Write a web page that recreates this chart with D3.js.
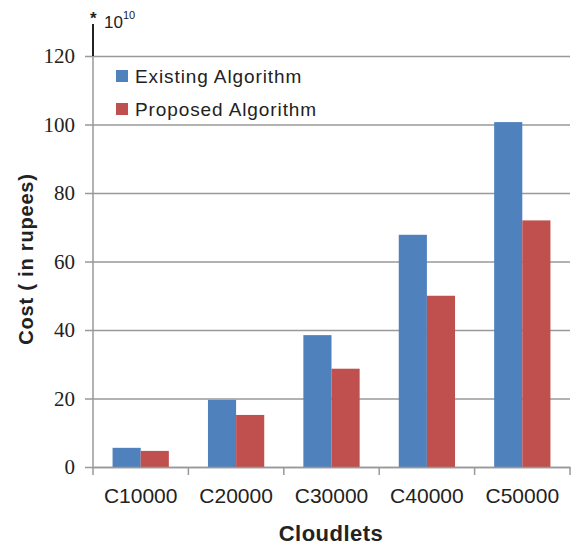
<!DOCTYPE html>
<html>
<head>
<meta charset="utf-8">
<script src="https://cdn.jsdelivr.net/npm/d3@7"></script>
<style>
  body { margin: 0; background: #fff; }
  svg { display: block; }
</style>
</head>
<body>
<div id="chart"></div>
<script>
const categories = ['C10000', 'C20000', 'C30000', 'C40000', 'C50000']
const seriesNames = ['Existing Algorithm', 'Proposed Algorithm']
const existing = [5.6, 19.6, 38.5, 67.8, 100.7]
const proposed = [4.7, 15.2, 28.7, 50, 72]
const yTicks = [0, 20, 40, 60, 80, 100, 120]

const colors = ['#4f81bd', '#c0504d']

const margin = { top: 56, right: 12, bottom: 78, left: 93 }
const width = 582 - margin.left - margin.right
const height = 545 - margin.top - margin.bottom

const svg = d3
  .select('#chart')
  .append('svg')
  .attr('width', 582)
  .attr('height', 545)

const g = svg
  .append('g')
  .attr('transform', 'translate(' + margin.left + ',' + margin.top + ')')

const data = categories.map((c, i) => ({ cat: c, values: [existing[i], proposed[i]] }))

const x0 = d3.scaleBand()
  .domain(categories)
  .range([0, 477])
  .paddingInner(0.41)
  .paddingOuter(0.205)

const x1 = d3.scaleBand()
  .domain([0, 1])
  .range([0, x0.bandwidth()])

const y = d3.scaleLinear()
  .domain([0, 120])
  .range([height, 0])

// gridlines + y axis
const yAxis = d3.axisLeft(y)
  .tickValues(yTicks)
  .tickSize(-477 - 8)
  .tickPadding(10)

g.append('g')
  .attr('class', 'y-axis')
  .attr('transform', 'translate(-8,0)')
  .call(yAxis)
  .call(s => s.select('.domain').remove())
  .call(s => s.selectAll('.tick line').attr('stroke', '#999').attr('stroke-width', 1.3))
  .call(s => s.selectAll('.tick text')
    .attr('font-family', 'Liberation Serif, serif')
    .attr('font-size', 21)
    .attr('fill', '#222')
    .attr('x', -10))

// bars
g.append('g')
  .selectAll('g')
  .data(data)
  .enter()
  .append('g')
  .attr('transform', d => 'translate(' + x0(d.cat) + ',0)')
  .selectAll('rect')
  .data(d => d.values)
  .enter()
  .append('rect')
  .attr('x', (d, i) => x1(i))
  .attr('width', x1.bandwidth())
  .attr('y', d => y(d))
  .attr('height', d => height - y(d))
  .attr('fill', (d, i) => colors[i])

// y axis line
g.append('line')
  .attr('x1', 0).attr('x2', 0)
  .attr('y1', 0).attr('y2', height)
  .attr('stroke', '#999')
  .attr('stroke-width', 1.5)

g.append('line')
  .attr('x1', 0).attr('x2', 0)
  .attr('y1', -32).attr('y2', 0)
  .attr('stroke', '#222')
  .attr('stroke-width', 2)

// x axis
const xAxis = d3.axisBottom(x0).tickSize(0).tickPadding(21)

g.append('g')
  .attr('class', 'x-axis')
  .attr('transform', 'translate(0,' + height + ')')
  .call(xAxis)
  .call(s => s.select('.domain').attr('stroke', '#999').attr('stroke-width', 1.5))
  .call(s => s.selectAll('.tick text')
    .attr('font-family', 'Liberation Sans, sans-serif')
    .attr('font-size', 21)
    .attr('fill', '#222'))

// category separator ticks
g.append('g')
  .selectAll('line')
  .data(d3.range(categories.length + 1))
  .enter()
  .append('line')
  .attr('x1', i => i * x0.step())
  .attr('x2', i => i * x0.step())
  .attr('y1', height)
  .attr('y2', height + 8)
  .attr('stroke', '#999')
  .attr('stroke-width', 1.5)

// legend
const legend = g.append('g').attr('transform', 'translate(23,14)')
seriesNames.forEach((name, i) => {
  const row = legend.append('g').attr('transform', 'translate(0,' + i * 33 + ')')
  row.append('rect').attr('width', 12).attr('height', 12).attr('fill', colors[i])
  row.append('text')
    .attr('x', 19)
    .attr('y', 13)
    .attr('font-family', 'Liberation Sans, sans-serif')
    .attr('font-size', 19)
    .attr('letter-spacing', 0.9)
    .attr('fill', '#222')
    .text(name)
})

// multiplier label
svg.append('text')
  .attr('x', 90)
  .attr('y', 24)
  .attr('font-family', 'Liberation Sans, sans-serif')
  .attr('font-size', 17)
  .attr('font-weight', 'bold')
  .attr('fill', '#222')
  .text('*')

const mult = svg.append('text')
  .attr('x', 104)
  .attr('y', 28)
  .attr('font-family', 'Liberation Sans, sans-serif')
  .attr('font-size', 17)
  .attr('fill', '#222')
mult.append('tspan').text('10')
mult.append('tspan').attr('font-size', 11).attr('dy', -9).text('10')

// axis titles
svg.append('text')
  .attr('transform', 'translate(33,259) rotate(-90)')
  .attr('text-anchor', 'middle')
  .attr('font-family', 'Liberation Sans, sans-serif')
  .attr('font-weight', 'bold')
  .attr('font-size', 20)
  .attr('letter-spacing', 0.8)
  .attr('fill', '#222')
  .text('Cost ( in rupees)')

svg.append('text')
  .attr('x', 331)
  .attr('y', 541)
  .attr('text-anchor', 'middle')
  .attr('font-family', 'Liberation Sans, sans-serif')
  .attr('font-weight', 'bold')
  .attr('font-size', 22)
  .attr('letter-spacing', 0.5)
  .attr('fill', '#222')
  .text('Cloudlets')
</script>
</body>
</html>
